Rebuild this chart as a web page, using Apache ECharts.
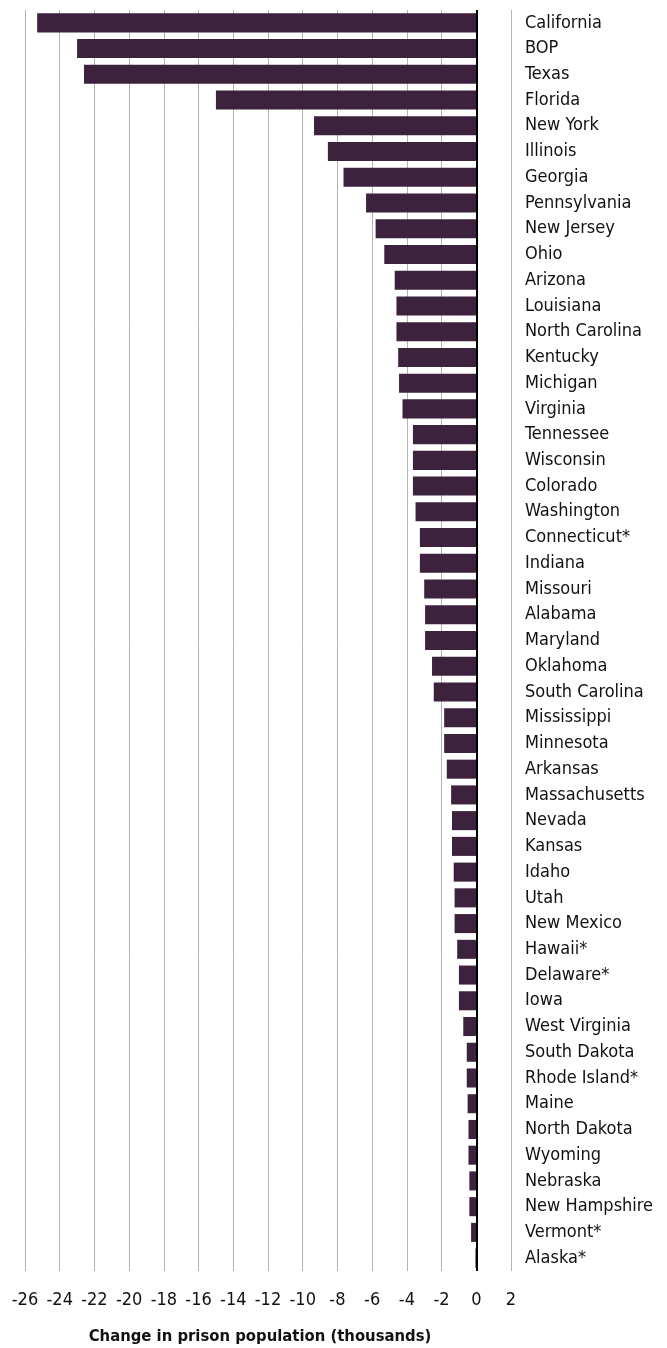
<!DOCTYPE html>
<html>
<head>
<meta charset="utf-8">
<script src="https://cdn.jsdelivr.net/npm/echarts@6/dist/echarts.min.js"></script>
<style>
  html, body { margin: 0; padding: 0; background: #ffffff; }
  #chart { width: 667px; height: 1348px; }
</style>
</head>
<body>
<div id="chart"></div>
<script>
const states = [
  "California", "BOP", "Texas", "Florida", "New York", "Illinois", "Georgia",
  "Pennsylvania", "New Jersey", "Ohio", "Arizona", "Louisiana", "North Carolina",
  "Kentucky", "Michigan", "Virginia", "Tennessee", "Wisconsin", "Colorado",
  "Washington", "Connecticut*", "Indiana", "Missouri", "Alabama", "Maryland",
  "Oklahoma", "South Carolina", "Mississippi", "Minnesota", "Arkansas",
  "Massachusetts", "Nevada", "Kansas", "Idaho", "Utah", "New Mexico", "Hawaii*",
  "Delaware*", "Iowa", "West Virginia", "South Dakota", "Rhode Island*", "Maine",
  "North Dakota", "Wyoming", "Nebraska", "New Hampshire", "Vermont*", "Alaska*"
];

const changeThousands = [
  -25.3, -23.0, -22.6, -15.0, -9.35, -8.55, -7.65,
  -6.35, -5.8, -5.3, -4.7, -4.6, -4.6,
  -4.5, -4.45, -4.25, -3.65, -3.65, -3.65,
  -3.5, -3.25, -3.25, -3.0, -2.95, -2.95,
  -2.55, -2.45, -1.85, -1.85, -1.7,
  -1.45, -1.4, -1.4, -1.3, -1.25, -1.25, -1.1,
  -1.0, -1.0, -0.75, -0.55, -0.55, -0.5,
  -0.45, -0.45, -0.4, -0.4, -0.3, -0.05
];

const xMin = -26;
const xMax = 2;
const xStep = 2;
const xAxisTitle = "Change in prison population (thousands)";

const FONT = "'DejaVu Sans Condensed', 'Liberation Sans', sans-serif";

const chart = echarts.init(document.getElementById('chart'), null, { renderer: 'canvas' });

chart.setOption({
  backgroundColor: '#ffffff',
  animation: false,
  grid: { left: 25, right: 156, top: 10, bottom: 77, containLabel: false, outerBoundsMode: 'none' },
  xAxis: {
    type: 'value',
    min: xMin,
    max: xMax,
    interval: xStep,
    axisLine: { show: false },
    axisTick: { show: false },
    splitLine: { show: true, lineStyle: { color: '#b4b4b4', width: 1 } },
    axisLabel: {
      color: '#111111',
      fontFamily: FONT,
      fontSize: 18,
      margin: 20
    },
    name: xAxisTitle,
    nameLocation: 'middle',
    nameGap: 57,
    nameTextStyle: {
      color: '#111111',
      fontFamily: FONT,
      fontWeight: 'bold',
      fontSize: 16.5,
      padding: [0, 16, 0, 0]
    }
  },
  yAxis: {
    type: 'category',
    data: states,
    inverse: true,
    position: 'right',
    axisLine: { show: false, onZero: false },
    axisTick: { show: false },
    splitLine: { show: false },
    axisLabel: {
      interval: 0,
      color: '#111111',
      fontFamily: FONT,
      fontSize: 18,
      align: 'left',
      margin: 14
    }
  },
  series: [{
    type: 'bar',
    data: changeThousands,
    barCategoryGap: '26%',
    itemStyle: { color: '#3d223e' },
    silent: true,
    markLine: {
      silent: true,
      symbol: ['none', 'none'],
      label: { show: false },
      lineStyle: { color: '#000000', width: 2, type: 'solid' },
      data: [{ xAxis: 0 }]
    }
  }]
});
</script>
</body>
</html>
